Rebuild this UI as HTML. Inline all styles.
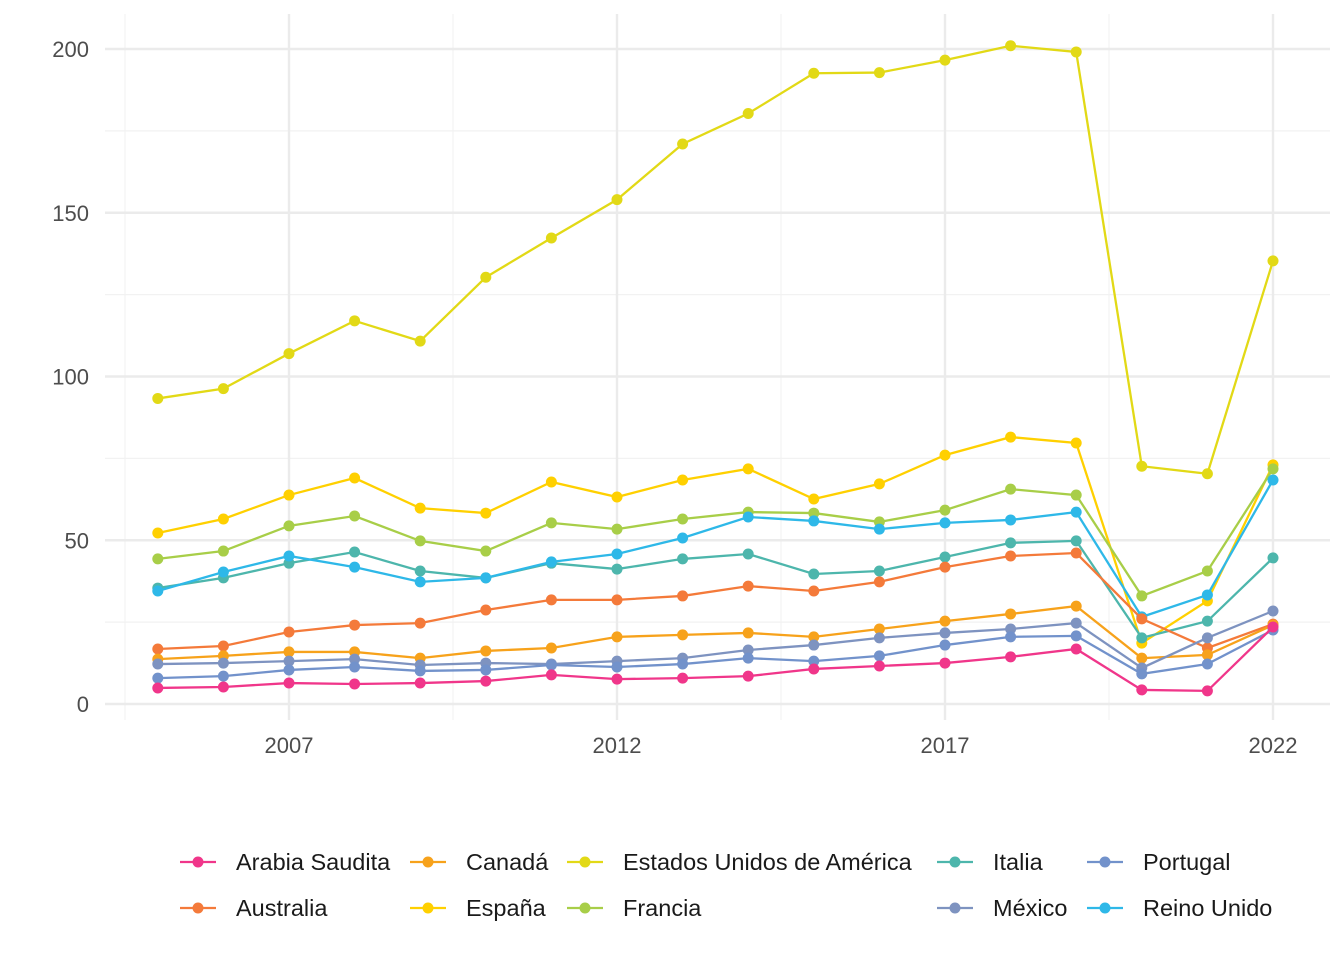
<!DOCTYPE html>
<html><head><meta charset="utf-8"><style>
html,body{margin:0;padding:0;background:#fff;}
svg{display:block;font-family:"Liberation Sans",sans-serif;}
</style></head><body>
<svg id="chart" width="1344" height="960" xmlns="http://www.w3.org/2000/svg">
<g id="grid"></g>
<g id="axes"></g>
<g id="series"></g>
<g id="legend"></g>
</svg>
<script>
const years = [2005,2006,2007,2008,2009,2010,2011,2012,2013,2014,2015,2016,2017,2018,2019,2020,2021,2022];
const seriesNames = ["Arabia Saudita","Australia","Canadá","España","Estados Unidos de América","Francia","Italia","México","Portugal","Reino Unido"];
const seriesColors = ["#F0368A","#F47A3A","#F7A21B","#FFD000","#E2D916","#A8CE48","#4DB6AC","#7E93C0","#7292CB","#2EB8E8"];
const arabia = [4.9,5.2,6.4,6.1,6.4,7,8.9,7.6,7.9,8.5,10.7,11.6,12.5,14.4,16.8,4.3,4,23.5];
const australia = [16.8,17.7,22,24.1,24.7,28.7,31.8,31.8,33,36,34.5,37.3,41.8,45.2,46.1,26,17.1,24.4];
const canada = [13.7,14.7,15.9,15.9,14,16.2,17.1,20.5,21.1,21.7,20.5,22.9,25.3,27.5,29.9,14,15,24.1];
const espana = [52.2,56.5,63.8,69,59.8,58.3,67.8,63.2,68.4,71.8,62.6,67.2,76,81.5,79.7,18.6,31.5,73];
const usa = [93.3,96.3,107,117,110.8,130.3,142.3,154,171,180.3,192.6,192.8,196.6,201,199.1,72.6,70.3,135.3];
const francia = [44.3,46.7,54.4,57.4,49.8,46.7,55.3,53.4,56.5,58.6,58.3,55.6,59.2,65.6,63.8,33,40.6,71.8];
const italia = [35.4,38.5,43,46.4,40.6,38.5,43,41.2,44.3,45.8,39.7,40.6,44.9,49.2,49.8,20.2,25.3,44.6];
const mexico = [12.2,12.5,13.1,13.7,11.9,12.5,12.2,13.1,14,16.5,18,20.2,21.7,22.9,24.7,11,20.2,28.4];
const portugal = [7.9,8.5,10.4,11.3,10.1,10.4,11.9,11.3,12.2,14,13.1,14.7,18,20.5,20.8,9.2,12.2,22.6];
const reinoUnido = [34.5,40.3,45.2,41.8,37.3,38.5,43.4,45.8,50.7,57.1,55.9,53.4,55.3,56.2,58.6,26.6,33.3,68.4];
const seriesValues = [arabia,australia,canada,espana,usa,francia,italia,mexico,portugal,reinoUnido];
const yTicks = [0,50,100,150,200];
const xTicks = [2007,2012,2017,2022];
const drawOrder = [4,3,5,6,9,1,2,7,8,0];

const NS="http://www.w3.org/2000/svg";
const X0=105,X1=1330,Y0=14,Y1=720;
function x(v){return 289+(v-2007)*65.6;}
function y(v){return 704-v*3.275;}
function mk(tag,attrs,parent){const e=document.createElementNS(NS,tag);for(const k in attrs)e.setAttribute(k,attrs[k]);parent.appendChild(e);return e;}
const grid=document.getElementById('grid'),axes=document.getElementById('axes'),ser=document.getElementById('series'),leg=document.getElementById('legend');
for(let i=0;i<yTicks.length-1;i++){const v=(yTicks[i]+yTicks[i+1])/2;
 const l=mk('line',{x1:X0,x2:X1,y1:y(v),y2:y(v),stroke:'#F2F2F2','stroke-width':1.2},grid);
 }
const xm=[xTicks[0]-2.5].concat(xTicks.slice(0,-1).map((t,i)=>(t+xTicks[i+1])/2));
xm.forEach(v=>{const l=mk('line',{x1:x(v),x2:x(v),y1:Y0,y2:Y1,stroke:'#F2F2F2','stroke-width':1.2},grid);
 });
yTicks.forEach(v=>{const l=mk('line',{x1:X0,x2:X1,y1:y(v),y2:y(v),stroke:'#EBEBEB','stroke-width':2.4},grid);
 
 const t=mk('text',{x:89,y:y(v)+8,'text-anchor':'end','font-size':22,fill:'#4D4D4D'},axes);t.textContent=v;
 });
xTicks.forEach(v=>{const l=mk('line',{x1:x(v),x2:x(v),y1:Y0,y2:Y1,stroke:'#EBEBEB','stroke-width':2.4},grid);
 
 const t=mk('text',{x:x(v),y:753,'text-anchor':'middle','font-size':22,fill:'#4D4D4D'},axes);t.textContent=v;
 });
drawOrder.forEach(si=>{const vals=seriesValues[si],c=seriesColors[si];
 const g=mk('g',{},ser);
 const p=mk('polyline',{points:vals.map((v,i)=>x(years[i])+','+y(v)).join(' '),fill:'none',stroke:c,'stroke-width':2.3},g);
 
 vals.forEach((v,i)=>{const d=mk('circle',{cx:x(years[i]),cy:y(v),r:5.5,fill:c},g);
  });});
const colX=[198,428,585,955,1105],rowY=[862,908];
seriesNames.forEach((n,i)=>{const cx=colX[Math.floor(i/2)],cy=rowY[i%2],c=seriesColors[i];
 const g=mk('g',{},leg);
 mk('line',{x1:cx-18,x2:cx+18,y1:cy,y2:cy,stroke:c,'stroke-width':2.3},g);
 mk('circle',{cx:cx,cy:cy,r:5.5,fill:c},g);
 const t=mk('text',{x:cx+38,y:cy+8,'font-size':23.5,fill:'#1A1A1A'},g);t.textContent=n;});
</script>
</body></html>
